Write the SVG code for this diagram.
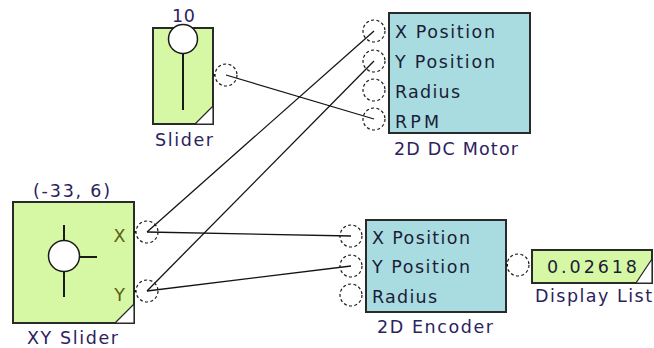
<svg xmlns="http://www.w3.org/2000/svg" width="654" height="348" viewBox="0 0 654 348">
<style>
.bg{fill:#ffffff}
.green{fill:#d6f7a3;stroke:#2a2a2a;stroke-width:2}
.cyan{fill:#a8dce0;stroke:#2a2a2a;stroke-width:2}
.tri{fill:#ffffff;stroke:#2a2a2a;stroke-width:1.2}
.knob{fill:#ffffff;stroke:#1a1a1a;stroke-width:1.5}
.stem{stroke:#1a1a1a;stroke-width:2;fill:none}
.port{fill:none;stroke:#1a1a1a;stroke-width:1.2;stroke-dasharray:3 2.4}
.stub{stroke:#1a1a1a;stroke-width:2}
.wire{stroke:#141414;stroke-width:1.3;fill:none}
text{font-family:"DejaVu Sans","Verdana",sans-serif;font-size:17.5px}
.lbl{fill:#2c2260}
.pin{fill:#1c1c38}
.ax{fill:#5e5e18}
</style>
<rect class="bg" x="0" y="0" width="654" height="348"/>
<g id="connectors">
<line class="wire" x1="226" y1="75" x2="374" y2="119"/>
<line class="wire" x1="147" y1="232" x2="374" y2="31"/>
<line class="wire" x1="147" y1="291" x2="374" y2="61"/>
<line class="wire" x1="147" y1="232" x2="351" y2="236"/>
<line class="wire" x1="147" y1="291" x2="351" y2="266"/>
</g>
<g id="slider">
<rect class="green" x="153" y="28" width="60" height="96"/>
<polygon class="tri" points="195,124 213,124 213,106"/>
<line class="stem" x1="183" y1="52" x2="183" y2="110"/>
<circle class="knob" cx="183" cy="39" r="14.5"/>
<text class="lbl" x="172" y="22" textLength="23">10</text>
<text class="lbl" x="155" y="146" textLength="58">Slider</text>
<line class="stub" x1="213" y1="75" x2="215" y2="75"/>
<circle class="port" cx="226" cy="75" r="11"/>
</g>
<g id="xyslider">
<rect class="green" x="13" y="202" width="121" height="121"/>
<polygon class="tri" points="115,323 134,323 134,304"/>
<line class="stem" x1="64" y1="225" x2="64" y2="297"/>
<line class="stem" x1="64" y1="257" x2="97" y2="257"/>
<circle class="knob" cx="64" cy="256" r="15.5"/>
<text class="lbl" x="33" y="197" textLength="77">(-33, 6)</text>
<text class="lbl" x="27" y="344" textLength="91">XY Slider</text>
<text class="ax" x="119.5" y="242" text-anchor="middle">X</text>
<text class="ax" x="119.5" y="301" text-anchor="middle">Y</text>
<line class="stub" x1="134" y1="232" x2="136" y2="232"/>
<line class="stub" x1="134" y1="291" x2="136" y2="291"/>
<circle class="port" cx="147" cy="232" r="11"/>
<circle class="port" cx="147" cy="291" r="11"/>
</g>
<g id="motor">
<rect class="cyan" x="389" y="13" width="141" height="120"/>
<circle class="port" cx="374" cy="31" r="11"/>
<circle class="port" cx="374" cy="61" r="11"/>
<circle class="port" cx="374" cy="90" r="11"/>
<circle class="port" cx="374" cy="119" r="11"/>
<text class="pin" x="395" y="38" textLength="100">X Position</text>
<text class="pin" x="395" y="68" textLength="100">Y Position</text>
<text class="pin" x="395" y="98" textLength="65">Radius</text>
<text class="pin" x="395" y="128" textLength="44">RPM</text>
<text class="lbl" x="394" y="155" textLength="124">2D DC Motor</text>
</g>
<g id="encoder">
<rect class="cyan" x="366" y="220" width="140" height="92"/>
<circle class="port" cx="351" cy="236" r="11"/>
<circle class="port" cx="351" cy="266" r="11"/>
<circle class="port" cx="351" cy="295" r="11"/>
<text class="pin" x="372" y="244" textLength="98">X Position</text>
<text class="pin" x="372" y="273" textLength="98">Y Position</text>
<text class="pin" x="372" y="303" textLength="65">Radius</text>
<text class="lbl" x="377" y="333" textLength="116">2D Encoder</text>
<line class="stub" x1="506" y1="265" x2="508" y2="265"/>
</g>
<g id="display">
<circle class="port" cx="518" cy="265" r="11"/>
<rect class="green" x="532" y="250" width="120" height="33"/>
<polygon class="tri" points="636,283 652,283 652,259"/>
<text class="pin" x="547" y="273" textLength="90">0.02618</text>
<text class="lbl" x="535" y="302" textLength="117">Display List</text>
</g>
</svg>
